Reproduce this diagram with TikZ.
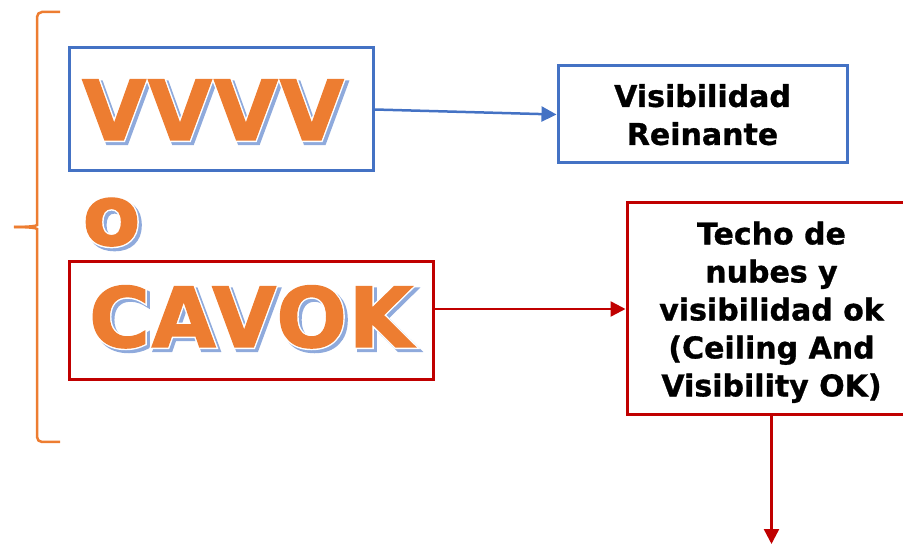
\documentclass[tikz,border=0pt]{standalone}
\usepackage{fontspec}
\setmainfont{DejaVu Sans}
\newfontfamily\artfont[FakeBold=1.5,LetterSpace=2]{DejaVu Sans Bold}
\newfontfamily\artrimfont[FakeBold=5,LetterSpace=2]{DejaVu Sans Bold}
\newfontfamily\boxfont[FakeBold=1]{DejaVu Sans Bold}
\usepackage{xcolor}
\usetikzlibrary{arrows.meta,calc,positioning}

\definecolor{myorange}{HTML}{ED7D31}
\definecolor{myblue}{HTML}{4472C4}
\definecolor{myred}{HTML}{C00000}
\definecolor{myshadow}{HTML}{8FAADC}

\tikzset{
  bluebox/.style={draw=myblue, line width=3pt, inner sep=0pt},
  redbox/.style={draw=myred, line width=3pt, inner sep=0pt},
  textbox/.style={align=center, text=black, text depth=0pt, font=\fontsize{30}{38}\boxfont},
  tip/.style={-{Triangle[length=15pt,width=15pt]}}
}

% shadow, white rim, orange letters
\newcommand\wordart[4]{%
  \node[font=\fontsize{#3}{#3}\artrimfont, text=myshadow, anchor=base] at ($#2+(3,3)$) {#4};
  \node[font=\fontsize{#3}{#3}\artrimfont, text=white, anchor=base] at #2 {#4};
  \node[font=\fontsize{#3}{#3}\artfont, text=myorange, anchor=base] (#1) at #2 {#4};
}

\begin{document}
\begin{tikzpicture}[x=1pt,y=-1pt,line width=2.5pt]
\useasboundingbox (0,0) rectangle (903,545);

\draw[myorange, rounded corners=5pt] (60,12) -- (37,12) -- (37,220) .. controls (37,226) and (28,227) .. (14,227);
\draw[myorange, rounded corners=5pt] (14,227) .. controls (28,227) and (37,228) .. (37,234) -- (37,442) -- (60,442);

\node[bluebox, minimum width=304, minimum height=123] (vvvvbox) at (221,109.5) {};
\node[redbox, minimum width=364, minimum height=118] (cavokbox) at (251,321) {};

\wordart{vvvv}{(213,140)}{83}{VVVV}
\wordart{o}{(111.5,245)}{84}{o}
\wordart{cavok}{(251,347)}{83}{CAVOK}

\node[bluebox, textbox, minimum width=289, minimum height=97] (vis) at (702.5,114.5) {Visibilidad\\Reinante};
\node[redbox, textbox, minimum width=289, minimum height=212] (techo) at (771.5,309)
  {Techo de\\nubes y\\visibilidad ok\\(Ceiling And\\Visibility OK)};
\coordinate (bottom) at (771.5,544);

\draw[myblue, tip] (vvvvbox.east) -- (vis.west);
\draw[myred, tip] (cavokbox.east |- techo.west) -- (techo.west);
\draw[myred, tip] (techo.south) -- (bottom);
\end{tikzpicture}
\end{document}
